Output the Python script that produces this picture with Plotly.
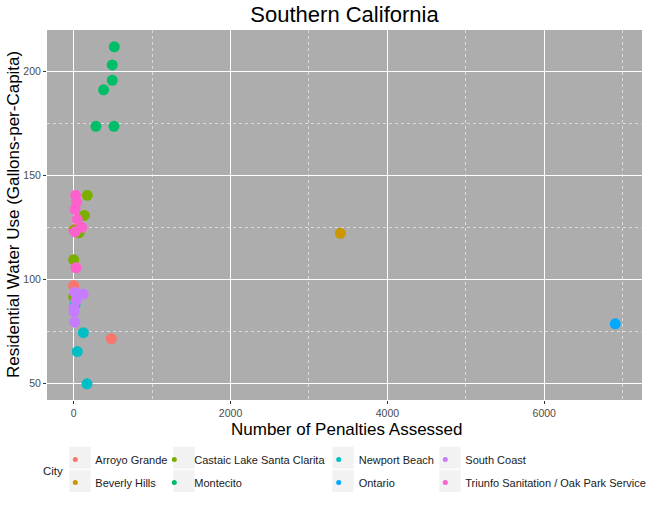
import plotly.graph_objects as go

# ---- data ----
cities = ["Arroyo Grande", "Beverly Hills", "Castaic Lake Santa Clarita", "Montecito",
          "Newport Beach", "Ontario", "South Coast", "Triunfo Sanitation / Oak Park Service"]
colors = ["#F8766D", "#CD9600", "#7CAE00", "#00BE67", "#00BFC4", "#00A9FF", "#C77CFF", "#FF61CC"]

arroyo_x = [0, 480, 5]
arroyo_y = [97.1, 71.4, 124.0]
beverly_x = [3400]
beverly_y = [122.2]
castaic_x = [174, 136, 68, 10, 0, 0]
castaic_y = [140.5, 130.8, 122.4, 123.7, 109.5, 91.4]
montecito_x = [518, 492, 492, 382, 284, 514]
montecito_y = [212.0, 203.3, 195.9, 191.3, 173.7, 173.7]
newport_x = [123, 46, 170, 17]
newport_y = [74.3, 65.2, 49.7, 87.6]
ontario_x = [6905]
ontario_y = [78.6]
southcoast_x = [123, 17, 29, 4, 5, 13]
southcoast_y = [92.9, 93.7, 89.7, 86.0, 84.4, 79.4]
triunfo_x = [25, 38, 17, 46, 102, 17, 29]
triunfo_y = [140.5, 137.3, 133.7, 128.9, 125.1, 122.9, 105.6]

xs = [arroyo_x, beverly_x, castaic_x, montecito_x, newport_x, ontario_x, southcoast_x, triunfo_x]
ys = [arroyo_y, beverly_y, castaic_y, montecito_y, newport_y, ontario_y, southcoast_y, triunfo_y]

# ---- figure geometry (pixels) ----
W, H = 648, 511
L, R, T, B = 47, 642, 30, 400
def px2x(px):
    return (px - L) / (R - L)
def py2y(py):
    return (B - py) / (B - T)

FONT = "Liberation Sans, Arial, Helvetica, sans-serif"
fig = go.Figure()

for name, c, x, y in zip(cities, colors, xs, ys):
    fig.add_trace(go.Scatter(x=x, y=y, mode="markers", name=name, showlegend=False,
                             marker=dict(color=c, size=11, line=dict(width=0))))

# legend: 4 columns of 2 rows, column-major order (like ggplot)
legend_names = ["legend", "legend2", "legend3", "legend4"]
text_starts = [94.3, 193.3, 357.7, 464.3]
for i, (name, c) in enumerate(zip(cities, colors)):
    col = i // 2
    fig.add_trace(go.Scatter(x=[None], y=[None], mode="markers", name=name,
                             legend=legend_names[col], legendgroup=name,
                             marker=dict(color=c, size=5)))

layout_legends = {}
for col, ln in enumerate(legend_names):
    layout_legends[ln] = dict(
        x=px2x(text_starts[col] - 40 + 1), xanchor="left",
        y=py2y(445), yanchor="top", orientation="v",
        bgcolor="rgba(0,0,0,0)", itemwidth=30, tracegroupgap=4,
        font=dict(family=FONT, size=11, color="#1A1A1A"))

# legend key boxes
box_cols = [(69.3, 90.7), (173.3, 194.7), (332.3, 353.7), (439.3, 460.7)]
box_rows = [(446.7, 468.7), (470.0, 492.0)]
shapes = []
for (x0, x1) in box_cols:
    for (y0, y1) in box_rows:
        shapes.append(dict(type="rect", xref="paper", yref="paper", layer="below",
                           x0=px2x(x0), x1=px2x(x1), y0=py2y(y1), y1=py2y(y0),
                           fillcolor="#F2F2F2", line=dict(width=0)))

minor_grid = dict(showgrid=True, gridcolor="rgba(255,255,255,0.55)", griddash="dot", gridwidth=0.7)

annotations = [
    dict(text="City", xref="paper", yref="paper", x=px2x(53), y=py2y(471),
         xanchor="center", yanchor="middle", showarrow=False,
         font=dict(family=FONT, size=11.5, color="#1A1A1A")),
    dict(text="Number of Penalties Assessed", xref="paper", yref="paper",
         x=px2x(347), y=py2y(429), xanchor="center", yanchor="middle", showarrow=False,
         font=dict(family=FONT, size=17, color="black")),
    dict(text="Residential Water Use (Gallons-per-Capita)", xref="paper", yref="paper",
         x=px2x(13), y=py2y(215), xanchor="center", yanchor="middle", showarrow=False,
         textangle=-90, font=dict(family=FONT, size=17, color="black")),
]

fig.update_layout(
    width=W, height=H,
    margin=dict(l=L, r=W - R, t=T, b=H - B, pad=0, autoexpand=False),
    paper_bgcolor="white", plot_bgcolor="#ADADAD",
    font=dict(family=FONT, color="#4D4D4D"),
    title=dict(text="Southern California", x=0.5, xref="paper", xanchor="center",
               y=1 - 14 / H, yref="container", yanchor="middle",
               font=dict(family=FONT, size=22, color="black")),
    shapes=shapes,
    annotations=annotations,
    xaxis=dict(range=[-340, 7246], tickvals=[0, 2000, 4000, 6000], showgrid=True,
               gridcolor="white", gridwidth=1.2, zeroline=False, automargin=False,
               minor=dict(tickvals=[1000, 3000, 5000, 7000], **minor_grid),
               ticks="outside", ticklen=3, tickcolor="#333333",
               tickfont=dict(family=FONT, size=10.5, color="#4D4D4D")),
    yaxis=dict(range=[41.9, 220.1], tickvals=[50, 100, 150, 200], showgrid=True,
               gridcolor="white", gridwidth=1.2, zeroline=False, automargin=False,
               minor=dict(tickvals=[75, 125, 175], **minor_grid),
               ticks="outside", ticklen=3, tickcolor="#333333",
               tickfont=dict(family=FONT, size=10.5, color="#4D4D4D")),
    **layout_legends,
)

fig.write_html("out.html", config={"displayModeBar": False},
               post_script="document.body.style.margin='0';")
